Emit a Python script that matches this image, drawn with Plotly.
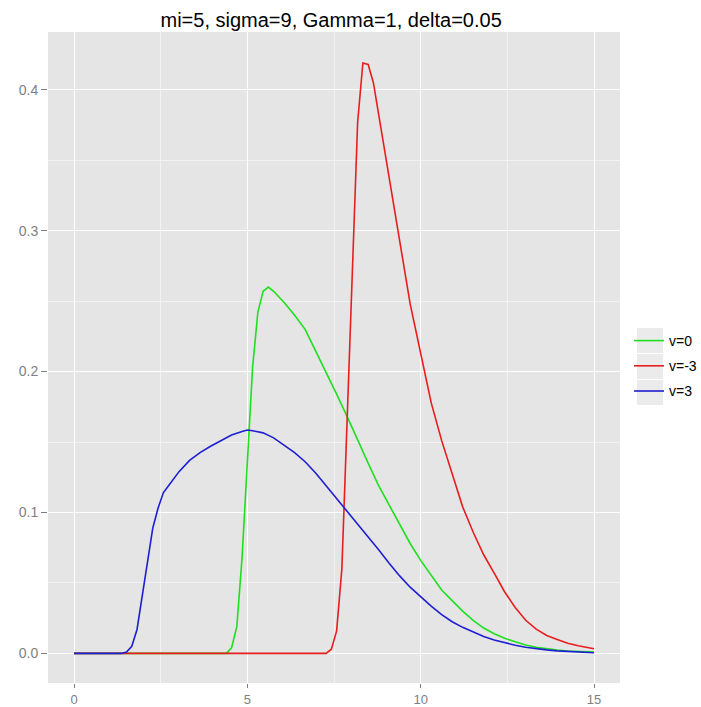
import plotly.graph_objects as go

# ---- data ----
x_v0 = [0, 4.394, 4.545, 4.697, 4.848, 5.0, 5.152, 5.303, 5.455, 5.606, 5.758, 6.061, 6.364,
        6.667, 6.970, 7.273, 7.576, 7.879, 8.182, 8.485, 8.788, 9.091, 9.394, 9.697, 10.0,
        10.303, 10.606, 10.909, 11.212, 11.515, 11.818, 12.121, 12.424, 12.727, 13.03, 13.333,
        13.636, 13.939, 14.242, 14.545, 14.848, 15.0]
y_v0 = [0, 0, 0.004, 0.019, 0.068, 0.14, 0.203, 0.242, 0.257, 0.260, 0.257, 0.249, 0.240,
        0.230, 0.2147, 0.200, 0.184, 0.168, 0.151, 0.135, 0.119, 0.105, 0.091, 0.078, 0.066,
        0.0555, 0.045, 0.0375, 0.030, 0.0235, 0.018, 0.014, 0.0107, 0.0082, 0.006, 0.0044,
        0.0032, 0.0024, 0.0017, 0.0013, 0.001, 0.0009]

x_vm3 = [0, 7.273, 7.424, 7.576, 7.727, 7.879, 8.030, 8.182, 8.333, 8.485, 8.636, 8.788, 9.091,
         9.394, 9.697, 10.0, 10.303, 10.606, 10.909, 11.212, 11.515, 11.818, 12.121, 12.424,
         12.727, 13.03, 13.333, 13.636, 13.939, 14.242, 14.545, 14.848, 15.0]
y_vm3 = [0, 0, 0.003, 0.016, 0.06, 0.166, 0.268, 0.377, 0.419, 0.418, 0.405, 0.3825, 0.337,
         0.290, 0.248, 0.213, 0.178, 0.151, 0.128, 0.104, 0.086, 0.070, 0.057, 0.0436,
         0.0326, 0.0235, 0.0172, 0.0127, 0.0099, 0.0072, 0.0055, 0.004, 0.0033]

x_v3 = [0, 1.364, 1.515, 1.667, 1.818, 1.970, 2.121, 2.273, 2.424, 2.576, 2.727, 3.030, 3.333,
        3.636, 3.939, 4.242, 4.545, 4.848, 5.0, 5.152, 5.455, 5.758, 6.061, 6.364, 6.667, 6.970,
        7.273, 7.576, 7.879, 8.182, 8.485, 8.788, 9.091, 9.394, 9.697, 10.0, 10.303, 10.606,
        10.909, 11.212, 11.515, 11.818, 12.121, 12.424, 12.727, 13.03, 13.333, 13.636, 13.939,
        14.242, 14.545, 14.848, 15.0]
y_v3 = [0, 0, 0.001, 0.005, 0.017, 0.040, 0.066, 0.089, 0.103, 0.114, 0.119, 0.129, 0.137,
        0.1425, 0.147, 0.151, 0.155, 0.1575, 0.1585, 0.158, 0.1565, 0.153, 0.148, 0.1425, 0.136,
        0.128, 0.119, 0.110, 0.101, 0.092, 0.083, 0.0735, 0.064, 0.055, 0.047, 0.040, 0.0335,
        0.0275, 0.0225, 0.0185, 0.015, 0.012, 0.0095, 0.0075, 0.0058, 0.0044, 0.0033, 0.0025,
        0.0018, 0.0013, 0.0009, 0.0006, 0.0005]

series_names = ["v=0", "v=-3", "v=3"]
series_colors = ["#1EE01E", "#E81E1E", "#1E1ED2"]
title_text = "mi=5, sigma=9, Gamma=1, delta=0.05"
x_ticks = [0, 5, 10, 15]
y_ticks = [0.0, 0.1, 0.2, 0.3, 0.4]

# ---- figure ----
W, H = 701, 707
L, R, T, B = 48, 81, 32, 24
pw, ph = W - L - R, H - T - B

fig = go.Figure()
for i, (xs, ys) in enumerate([(x_v0, y_v0), (x_vm3, y_vm3), (x_v3, y_v3)]):
    fig.add_trace(go.Scatter(x=xs, y=ys, mode="lines", name=series_names[i],
                             legendgroup=series_names[i],
                             line=dict(color=series_colors[i], width=1.6)))

def px_x(p):
    return (p - L) / pw

def px_y(p):
    return (H - B - p) / ph

# grey legend key backgrounds (ggplot style)
shapes = []
for (y0, y1) in [(328, 353), (354, 379), (380, 405)]:
    shapes.append(dict(type="rect", xref="paper", yref="paper",
                       x0=px_x(637), x1=px_x(663), y0=px_y(y1), y1=px_y(y0),
                       fillcolor="#EBEBEB", line=dict(width=0), layer="below"))

fig.update_layout(
    width=W, height=H,
    margin=dict(l=L, r=R, t=T, b=B, autoexpand=False),
    paper_bgcolor="white",
    plot_bgcolor="#E5E5E5",
    font=dict(family="Liberation Sans, Arial, sans-serif"),
    title=dict(text=title_text, x=0.495, xref="paper", xanchor="center",
               y=1 - 20 / H, yref="container", yanchor="middle",
               font=dict(size=20, color="black")),
    xaxis=dict(range=[-0.75, 15.75], tickvals=x_ticks, ticks="outside", ticklen=4,
               tickcolor="#7F7F7F", tickwidth=1, showgrid=True, gridcolor="white",
               gridwidth=1.2, zeroline=False, showline=False, automargin=False,
               tickfont=dict(size=13, color="#7F7F7F"),
               minor=dict(tickvals=[2.5, 7.5, 12.5], showgrid=True, gridcolor="#F2F2F2",
                          gridwidth=0.6, ticks="")),
    yaxis=dict(range=[-0.021, 0.441], tickvals=y_ticks, tickformat=".1f", ticks="outside",
               ticklen=6, tickcolor="#7F7F7F", tickwidth=1, showgrid=True,
               gridcolor="white", gridwidth=1.2, zeroline=False, showline=False,
               automargin=False,
               tickfont=dict(size=14, color="#7F7F7F"),
               minor=dict(tickvals=[0.05, 0.15, 0.25, 0.35], showgrid=True,
                          gridcolor="#F2F2F2", gridwidth=0.6, ticks="")),
    legend=dict(x=px_x(629), xanchor="left", y=px_y(325), yanchor="top",
                bgcolor="rgba(0,0,0,0)", font=dict(size=14, color="black"),
                tracegroupgap=4, traceorder="grouped", itemwidth=30),
    shapes=shapes,
)

fig.write_html("out.html")
